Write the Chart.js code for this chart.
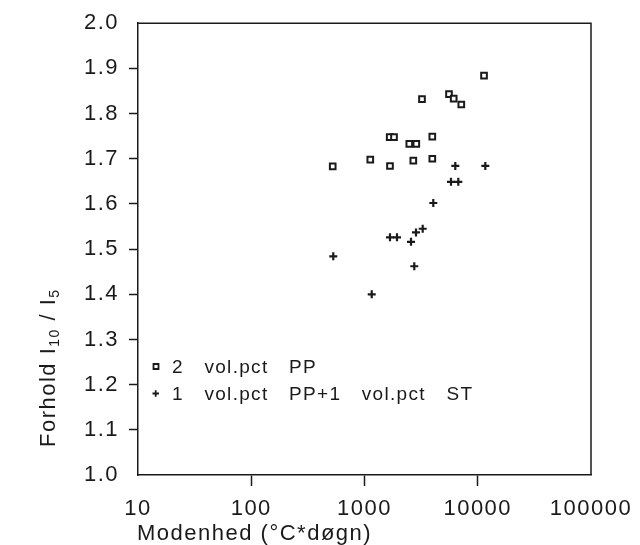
<!DOCTYPE html>
<html lang="da">
<head>
    <meta charset="UTF-8">
    <title>Forhold I10 / I5 mod modenhed</title>
    <script src="https://cdn.jsdelivr.net/npm/chart.js"></script>
    <style>
        body { margin: 0; background: #fff; }
    </style>
</head>
<body>
    <canvas id="modenChart" width="640" height="545"></canvas>
    <script>
        // 2 vol.pct PP (open squares)
        const ppX = [524, 1125, 1669, 1679, 1822, 2486, 2698, 2867, 3218, 3970, 3970, 5573, 6132, 7157, 11360];
        const ppY = [1.683, 1.698, 1.748, 1.684, 1.748, 1.733, 1.696, 1.733, 1.832, 1.749, 1.700, 1.843, 1.833, 1.820, 1.884];

        // 1 vol.pct PP + 1 vol.pct ST (crosses)
        const ppStX = [530, 1158, 1679, 1936, 2574, 2752, 2849, 3265, 4050, 5804, 6336, 6734, 11660];
        const ppStY = [1.484, 1.400, 1.526, 1.526, 1.516, 1.462, 1.537, 1.545, 1.602, 1.649, 1.684, 1.649, 1.684];

        const xTicks = [10, 100, 1000, 10000, 100000];
        const seriesLabels = ['2 vol.pct PP', '1 vol.pct PP+1 vol.pct ST'];

        const FONT = "'Liberation Sans', Arial, sans-serif";
        const INK = '#1a1a1a';

        function pts(xs, ys) {
            return xs.map((x, i) => ({ x: x, y: ys[i] }));
        }

        // hide the tick marks that would sit on the corners of the frame
        function edgeTick(c) {
            const n = c.scale.ticks.length;
            return (c.index === 0 || c.index === n - 1) ? 'rgba(0,0,0,0)' : INK;
        }

        const extras = {
            id: 'extras',
            beforeDraw(chart) {
                chart.ctx.letterSpacing = '1.5px';
            },
            afterDraw(chart) {
                const ctx = chart.ctx;
                const a = chart.chartArea;
                ctx.save();
                ctx.strokeStyle = INK;
                ctx.lineWidth = 1.5;
                ctx.beginPath();
                ctx.moveTo(a.left, a.top);
                ctx.lineTo(a.right, a.top);
                ctx.lineTo(a.right, a.bottom);
                ctx.stroke();

                ctx.fillStyle = INK;
                ctx.letterSpacing = '1.5px';

                // x title
                ctx.font = '22px ' + FONT;
                ctx.textAlign = 'left';
                ctx.textBaseline = 'alphabetic';
                ctx.fillText('Modenhed (°C*døgn)', 137, 540);

                // y title with subscripts
                ctx.save();
                ctx.translate(55, 447);
                ctx.rotate(-Math.PI / 2);
                let x = 0;
                const parts = [['Forhold I', 22, 0], ['10', 14, 4], [' / I', 22, 0], ['5', 14, 4]];
                parts.forEach(p => {
                    ctx.font = p[1] + 'px ' + FONT;
                    ctx.fillText(p[0], x, p[2]);
                    x += ctx.measureText(p[0]).width;
                });
                ctx.restore();

                // legend
                ctx.font = '19px ' + FONT;
                ctx.letterSpacing = '1.3px';
                ctx.wordSpacing = '14px';
                const rows = [366.5, 393.5];
                chart.data.datasets.forEach((ds, i) => {
                    const my = rows[i];
                    ctx.lineWidth = 1.8;
                    ctx.strokeStyle = INK;
                    ctx.beginPath();
                    if (ds.pointStyle === 'rect') {
                        ctx.fillStyle = '#fff';
                        ctx.rect(153.5, my - 2.5, 5, 5);
                        ctx.fill();
                        ctx.stroke();
                    } else {
                        ctx.moveTo(152.5, my);
                        ctx.lineTo(159, my);
                        ctx.moveTo(155.7, my - 3.2);
                        ctx.lineTo(155.7, my + 3.2);
                        ctx.stroke();
                    }
                    ctx.fillStyle = INK;
                    ctx.fillText(ds.label, 172, my + 6.5);
                });
                ctx.restore();
            }
        };

        const ctx = document.getElementById('modenChart').getContext('2d');
        const modenChart = new Chart(ctx, {
            type: 'scatter',
            data: {
                datasets: [
                    {
                        label: seriesLabels[0],
                        data: pts(ppX, ppY),
                        pointStyle: 'rect',
                        radius: 4,
                        borderWidth: 2,
                        borderColor: INK,
                        backgroundColor: '#fff'
                    },
                    {
                        label: seriesLabels[1],
                        data: pts(ppStX, ppStY),
                        pointStyle: 'cross',
                        radius: 4,
                        borderWidth: 2.2,
                        borderColor: INK,
                        backgroundColor: INK
                    }
                ]
            },
            options: {
                responsive: false,
                animation: false,
                layout: { padding: { top: 21, right: 49, left: 0, bottom: 0 } },
                plugins: {
                    legend: { display: false },
                    tooltip: { enabled: false }
                },
                scales: {
                    x: {
                        type: 'logarithmic',
                        min: 10,
                        max: 100000,
                        afterBuildTicks: s => { s.ticks = xTicks.map(v => ({ value: v })); },
                        afterFit: s => { s.height = 70; },
                        ticks: {
                            callback: v => String(v),
                            font: { family: FONT, size: 22 },
                            color: INK,
                            padding: 10,
                            maxRotation: 0,
                            autoSkip: false
                        },
                        grid: {
                            drawOnChartArea: false,
                            drawTicks: true,
                            tickLength: 11,
                            tickWidth: 1.5,
                            tickColor: edgeTick
                        },
                        border: { display: true, color: INK, width: 1.5 }
                    },
                    y: {
                        min: 1.0,
                        max: 2.0,
                        afterFit: s => { s.width = 138; },
                        ticks: {
                            stepSize: 0.1,
                            callback: v => v.toFixed(1),
                            font: { family: FONT, size: 22 },
                            color: INK,
                            padding: 10
                        },
                        grid: {
                            drawOnChartArea: false,
                            drawTicks: true,
                            tickLength: 9,
                            tickWidth: 1.5,
                            tickColor: edgeTick
                        },
                        border: { display: true, color: INK, width: 1.5 }
                    }
                }
            },
            plugins: [extras]
        });
    </script>
</body>
</html>
